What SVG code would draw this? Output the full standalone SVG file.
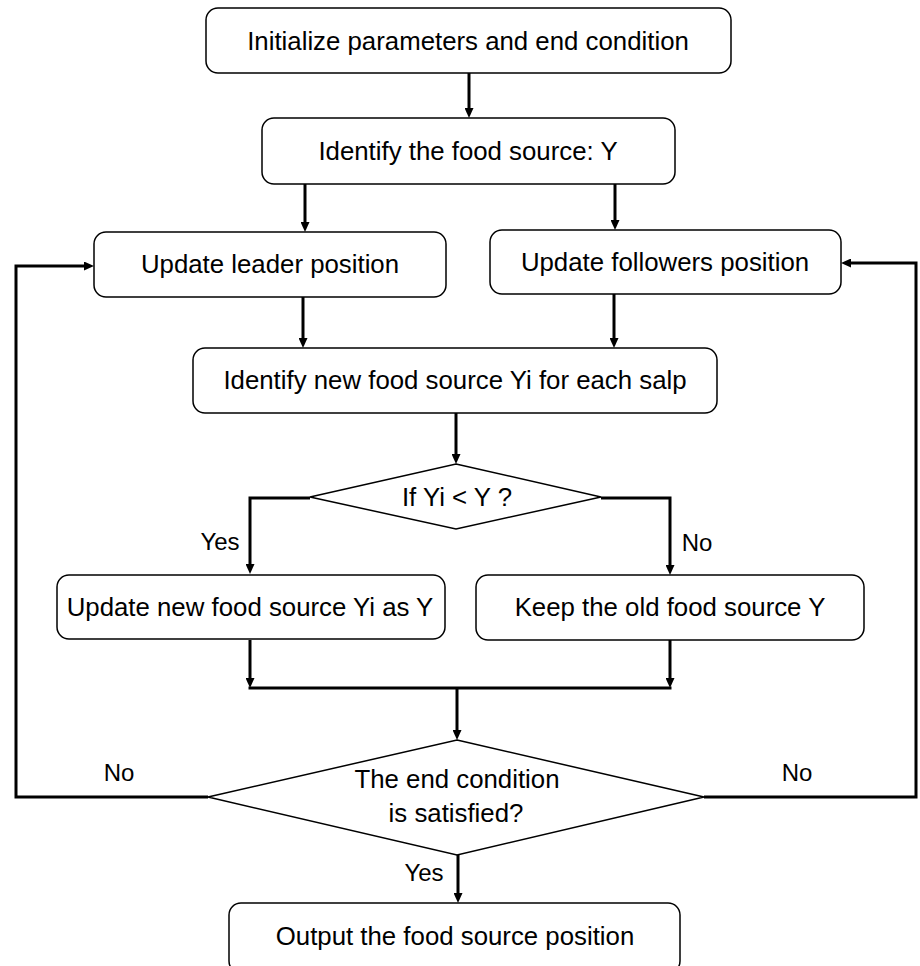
<svg xmlns="http://www.w3.org/2000/svg" width="920" height="966" viewBox="0 0 920 966">
<defs>
<style>
.box{fill:#fff;stroke:#000;stroke-width:1.5}
.t{font-family:"Liberation Sans",Arial,sans-serif;font-size:25.8px;fill:#000;text-anchor:middle}
.lbl{font-family:"Liberation Sans",Arial,sans-serif;font-size:24px;fill:#000;text-anchor:middle}
.c{fill:none;stroke:#000;stroke-width:3}
</style>
<marker id="ah" markerUnits="userSpaceOnUse" markerWidth="10" markerHeight="9" refX="3" refY="4.5" orient="auto">
<path d="M0,0 L10,4.5 L0,9 z" fill="#000"/>
</marker>
</defs>
<rect width="920" height="966" fill="#fff"/>

<g id="connectors">
<path class="c" d="M469,73 V111" marker-end="url(#ah)"/>
<path class="c" d="M305,184 V225" marker-end="url(#ah)"/>
<path class="c" d="M615,184 V223" marker-end="url(#ah)"/>
<path class="c" d="M303,297 V341" marker-end="url(#ah)"/>
<path class="c" d="M614,294 V341" marker-end="url(#ah)"/>
<path class="c" d="M456,413 V457" marker-end="url(#ah)"/>
<path class="c" d="M310,498 H250 V567" marker-end="url(#ah)"/>
<path class="c" d="M601,498 H670 V568" marker-end="url(#ah)"/>
<path class="c" d="M250,640 V681" marker-end="url(#ah)"/>
<path class="c" d="M670,640 V681" marker-end="url(#ah)"/>
<path class="c" d="M248.5,688 H671.5"/>
<path class="c" d="M457,688 V733" marker-end="url(#ah)"/>
<path class="c" d="M458,855 V896" marker-end="url(#ah)"/>
<path class="c" d="M208,797 H16 V266 H87" marker-end="url(#ah)"/>
<path class="c" d="M704,797 H916 V263 H848" marker-end="url(#ah)"/>
<text class="lbl" x="220" y="550">Yes</text>
<text class="lbl" x="697" y="551">No</text>
<text class="lbl" x="119" y="781">No</text>
<text class="lbl" x="797" y="781">No</text>
<text class="lbl" x="424" y="881">Yes</text>
</g>

<g id="n-init">
<rect class="box" x="206" y="8" width="525" height="65" rx="12"/>
<text class="t" x="468" y="50">Initialize parameters and end condition</text>
</g>
<g id="n-identify">
<rect class="box" x="262" y="118" width="413" height="66" rx="12"/>
<text class="t" x="468" y="160">Identify the food source: Y</text>
</g>
<g id="n-leader">
<rect class="box" x="94" y="232" width="352" height="65" rx="12"/>
<text class="t" x="270" y="273">Update leader position</text>
</g>
<g id="n-followers">
<rect class="box" x="490" y="230" width="351" height="64" rx="12"/>
<text class="t" x="665" y="271">Update followers position</text>
</g>
<g id="n-identify-new">
<rect class="box" x="193" y="348" width="524" height="65" rx="12"/>
<text class="t" x="455" y="389">Identify new food source Yi for each salp</text>
</g>
<g id="n-cond1">
<polygon class="box" points="456,464 601,497 456,529 310,497"/>
<text class="t" x="457" y="506">If Yi &lt; Y ?</text>
</g>
<g id="n-update-new">
<rect class="box" x="57" y="575" width="388" height="64" rx="12"/>
<text class="t" x="250" y="616">Update new food source Yi as Y</text>
</g>
<g id="n-keep">
<rect class="box" x="476" y="575" width="388" height="65" rx="12"/>
<text class="t" x="670" y="616">Keep the old food source Y</text>
</g>
<g id="n-cond2">
<polygon class="box" points="457,740 704,797 457,855 208,797"/>
<text class="t" x="457" y="788">The end condition</text>
<text class="t" x="456" y="822">is satisfied?</text>
</g>
<g id="n-output">
<rect class="box" x="229" y="903" width="451" height="70" rx="12"/>
<text class="t" x="455" y="945">Output the food source position</text>
</g>
</svg>
